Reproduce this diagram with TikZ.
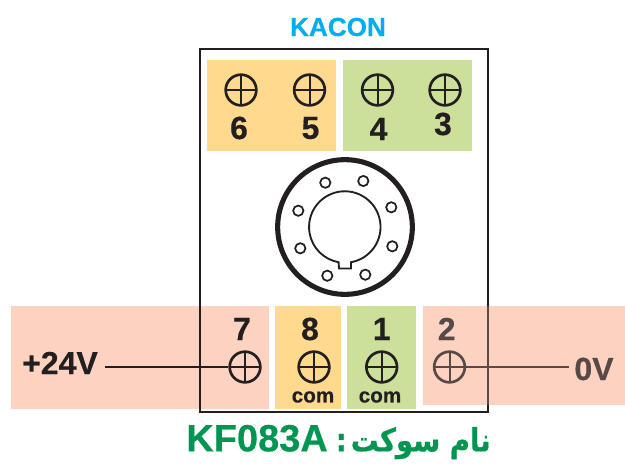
\documentclass[tikz,border=0pt]{standalone}
\usepackage{fontspec}
\setmainfont[BoldFeatures={FakeBold=0.4}]{Liberation Sans}
\newfontfamily\arabicfont[Script=Arabic,FakeStretch=0.86,BoldFeatures={FakeBold=0.6}]{DejaVu Sans}
\TeXXeTstate=1
\usepackage{xcolor}
\usepackage{tikz}
\pgfdeclarelayer{bg}
\pgfsetlayers{bg,main}
\definecolor{padorange}{HTML}{FED98E}
\definecolor{padgreen}{HTML}{CCDF9B}
\definecolor{padpink}{HTML}{FDD2C0}
\definecolor{inkblack}{HTML}{231F20}
\definecolor{inkbrown}{HTML}{574A46}
\definecolor{kaconblue}{HTML}{00AEEF}
\definecolor{titlegreen}{HTML}{009651}
\tikzset{
  screw/.style={circle, draw=#1, line width=2pt, minimum size=23pt, inner sep=0pt,
    path picture={\draw[line width=1.5pt, draw=#1] (path picture bounding box.north) -- (path picture bounding box.south)
      (path picture bounding box.west) -- (path picture bounding box.east);}},
  screw/.default=inkblack,
  pin/.style={circle, draw=inkblack, line width=1.3pt, minimum size=7.7pt, inner sep=0pt},
  num/.style={font=\fontsize{24}{24}\selectfont\bfseries, text=inkblack, inner sep=0pt},
  com/.style={font=\fontsize{15.5}{15.5}\selectfont\bfseries, text=inkblack, inner sep=0pt},
  wire/.style={line width=1.9pt, draw=inkblack}
}
\begin{document}
\begin{tikzpicture}[x=0.75pt, y=-0.75pt]
\useasboundingbox (0,0) rectangle (625,465);
\begin{pgfonlayer}{bg}
  \fill[padorange] (207,60) rectangle (336,151);
  \fill[padgreen] (343,60) rectangle (472,151);
  \fill[padpink] (11,306) rectangle (269,409);
  \fill[padorange] (275,306) rectangle (341,409);
  \fill[padgreen] (347,306) rectangle (416,409);
  \fill[padpink] (423,306) rectangle (625,405);
\end{pgfonlayer}
  \draw[line width=1.9pt, inkblack] (200,49) rectangle (488,412);
  \coordinate (edgetop) at (488,306);
  \coordinate (edgebot) at (488,405);
  \draw[line width=1.9pt, inkbrown] (edgetop) -- (edgebot);
  \node[font=\fontsize{19.6}{19.6}\selectfont\bfseries, text=kaconblue, inner sep=0pt] (kacon) at (338,27) {KACON};
  \node[screw] (screw6) at (241,90) {}; %top row
  \node[screw] (screw5) at (309.5,90) {};
  \node[screw] (screw4) at (377.5,90) {};
  \node[screw] (screw3) at (445,90) {};
  \node[num] (num6) at (239,128) {6};
  \node[num] (num5) at (310.5,128) {5};
  \node[num] (num4) at (378.5,129) {4};
  \node[num] (num3) at (443,124) {3};
  \node[circle, draw=inkblack, line width=3.8pt, minimum size=101pt, inner sep=0pt] (ring) at (345,227) {}; %socket
  \draw[line width=1.4pt, inkblack] (351,262.2) arc[start angle=-80, end angle=260, radius=26.8pt] -- (339,268.5) -- (351,268.5) -- cycle;
  \node[pin] (pin1) at (325.3,182.7) {};
  \node[pin] (pin2) at (363.3,181) {};
  \node[pin] (pin3) at (391.3,207.3) {};
  \node[pin] (pin4) at (392.3,246.3) {};
  \node[pin] (pin5) at (365.3,274.7) {};
  \node[pin] (pin6) at (327.3,275.7) {};
  \node[pin] (pin7) at (300.3,248.3) {};
  \node[pin] (pin8) at (298.3,210.7) {};
  \node[screw] (screw7) at (245,367) {}; %bottom row
  \node[screw] (screw8) at (314,367) {};
  \node[screw] (screw1) at (381.7,367) {};
  \node[screw=inkbrown] (screw2) at (449.5,367) {};
  \node[num] (num7) at (242,329) {7};
  \node[num] (num8) at (310,329) {8};
  \node[num] (num1) at (381.7,329) {1};
  \node[num, text=inkbrown] (num2) at (446.7,329) {2};
  \node[com] (com8) at (313,397) {com};
  \node[com] (com1) at (380,397) {com};
  \node[num, inner xsep=5pt] (plus24) at (60,363) {+24V};
  \node[num, text=inkbrown, inner xsep=4pt] (zerov) at (594,369) {0V};
  \draw[wire] (plus24.east |- screw7.west) -- (screw7.west);
  \draw[wire, draw=inkbrown] (screw2.east) -- (zerov.west |- screw2.east);
  \node[text=titlegreen, inner sep=0pt, font=\fontsize{28.5}{28.5}\selectfont\bfseries] (title) at (338.5,442) {\beginR{\arabicfont\fontsize{24}{24}\selectfont\bfseries نام سوکت\hspace{3pt}:}\hspace{6pt}\beginL KF083A\endL\endR};
\end{tikzpicture}
\end{document}
